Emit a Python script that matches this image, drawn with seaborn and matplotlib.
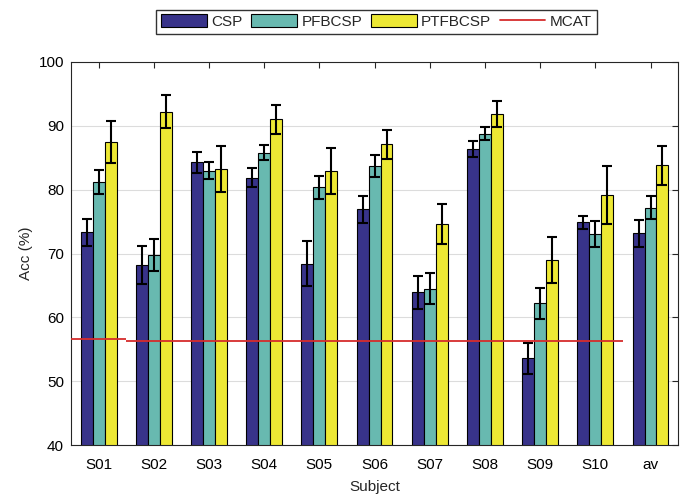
import numpy as np
import pandas as pd
import matplotlib
matplotlib.use("Agg")
import matplotlib.pyplot as plt
import seaborn as sns
from matplotlib.patches import Patch
from matplotlib.lines import Line2D

# =========================
# DATA
# =========================
subjects = ["S01", "S02", "S03", "S04", "S05", "S06", "S07", "S08", "S09", "S10", "av"]
methods = ["CSP", "PFBCSP", "PTFBCSP"]

csp = [73.3, 68.2, 84.3, 81.9, 68.4, 76.9, 63.9, 86.4, 53.6, 74.9, 73.2]
pfbcsp = [81.2, 69.7, 83.0, 85.8, 80.4, 83.7, 64.5, 88.8, 62.2, 73.0, 77.2]
ptfbcsp = [87.5, 92.2, 83.2, 91.0, 82.9, 87.1, 74.6, 91.8, 69.0, 79.2, 83.8]

csp_err = [2.1, 3.0, 1.65, 1.5, 3.5, 2.15, 2.65, 1.3, 2.45, 1.05, 2.1]
pfbcsp_err = [1.85, 2.5, 1.4, 1.15, 1.8, 1.7, 2.45, 1.0, 2.4, 2.05, 1.8]
ptfbcsp_err = [3.25, 2.6, 3.6, 2.2, 3.6, 2.3, 3.15, 2.05, 3.55, 4.5, 3.1]

# MCAT chance level per subject (S01..S10)
mcat = [56.65, 56.3, 56.3, 56.3, 56.3, 56.3, 56.3, 56.3, 56.3, 56.3]

colors = ["#38338a", "#68b9b0", "#ede834"]

# =========================
# LONG FORM TABLE
# =========================
rows = []
for m, vals, errs in zip(methods, [csp, pfbcsp, ptfbcsp], [csp_err, pfbcsp_err, ptfbcsp_err]):
    for s, v, e in zip(subjects, vals, errs):
        rows.append({"Subject": s, "Method": m, "Acc": v, "Err": e})
df = pd.DataFrame(rows)

# =========================
# PLOT
# =========================
sns.set_style("white")
plt.rcParams["font.family"] = ["Liberation Sans", "DejaVu Sans"]

fig = plt.figure(figsize=(6.86, 4.94), dpi=100)
ax = fig.add_axes([0.1035, 0.099, 0.885, 0.7755])

sns.barplot(data=df, x="Subject", y="Acc", hue="Method", order=subjects,
            hue_order=methods, palette=colors, width=0.65, errorbar=None,
            edgecolor="black", linewidth=0.8, saturation=1, legend=False, ax=ax)

# error bars on the bar centres
for container, m in zip(ax.containers, methods):
    sub = df[df["Method"] == m].set_index("Subject").loc[subjects]
    xs = [p.get_x() + p.get_width() / 2 for p in container.patches]
    ax.errorbar(xs, sub["Acc"].values, yerr=sub["Err"].values, fmt="none",
                ecolor="black", elinewidth=1.5, capsize=3.3, capthick=1.5, zorder=4)

# MCAT step line
xpos = np.arange(len(mcat))
ax.hlines(mcat, xpos - 0.5, xpos + 0.5, colors="#d62c2c", linewidth=1.3, zorder=5)

ax.set_ylim(40, 100)
ax.set_xlim(-0.5, len(subjects) - 0.5)
ax.set_yticks(np.arange(40, 101, 10))
ax.yaxis.grid(True, color="#dcdcdc", linewidth=0.8)
ax.set_axisbelow(True)

for sp in ax.spines.values():
    sp.set_visible(True)
    sp.set_color("#262626")
    sp.set_linewidth(0.8)

ax.tick_params(direction="in", top=True, right=True, length=4, width=0.8,
               labelsize=11, colors="#262626", labelcolor="black")
ax.tick_params(axis="x", pad=9.3)
ax.tick_params(axis="y", pad=5)
ax.set_xlabel("Subject", fontsize=11, labelpad=5.5)
ax.set_ylabel("Acc (%)", fontsize=11, labelpad=4)

handles = [Patch(facecolor=c, edgecolor="black", linewidth=0.8) for c in colors]
handles.append(Line2D([0], [0], color="#d62c2c", linewidth=1.3))
fig.legend(handles, methods + ["MCAT"], loc="upper center", ncol=4,
           bbox_to_anchor=(0.549, 0.98), frameon=True, fancybox=False,
           edgecolor="black", fontsize=11, handlelength=3.0, handleheight=0.9,
           columnspacing=0.55, handletextpad=0.3, borderpad=0.3, borderaxespad=0)

fig.savefig("out.png", dpi=100)
